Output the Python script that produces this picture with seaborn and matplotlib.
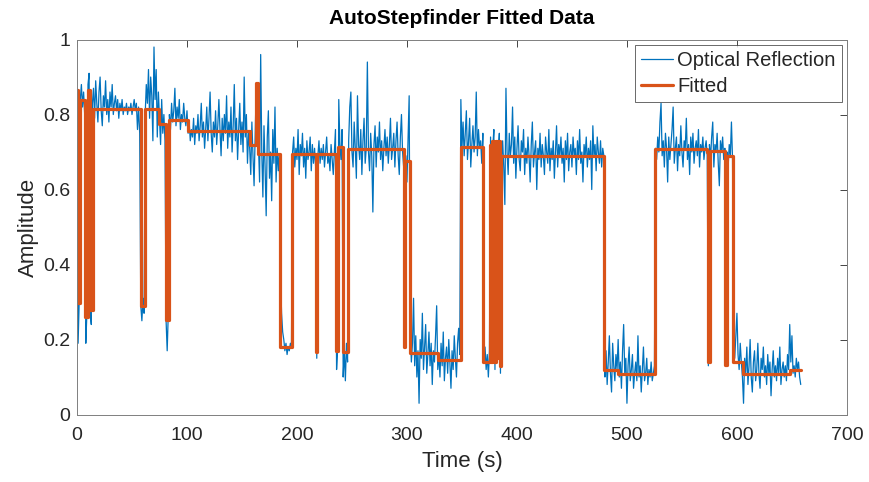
import numpy as np
import pandas as pd
import matplotlib
matplotlib.use("Agg")
import matplotlib.pyplot as plt
import seaborn as sns

# Optical reflection trace, one sample per second (t = 0 ... 658 s)
reflection_000_099 = [
    0.86, 0.19, 0.30, 0.84, 0.88, 0.82, 0.86, 0.80, 0.19, 0.27,
    0.88, 0.91, 0.27, 0.24, 0.83, 0.87, 0.79, 0.89, 0.83, 0.78,
    0.86, 0.90, 0.81, 0.77, 0.85, 0.82, 0.89, 0.80, 0.84, 0.78,
    0.86, 0.82, 0.88, 0.80, 0.83, 0.85, 0.81, 0.84, 0.79, 0.83,
    0.81, 0.84, 0.80, 0.82, 0.81, 0.83, 0.80, 0.82, 0.81, 0.83,
    0.80, 0.82, 0.84, 0.81, 0.83, 0.76, 0.82, 0.75, 0.29, 0.25,
    0.31, 0.27, 0.80, 0.88, 0.83, 0.92, 0.79, 0.90, 0.85, 0.73,
    0.98, 0.84, 0.92, 0.74, 0.86, 0.79, 0.72, 0.84, 0.75, 0.80,
    0.73, 0.25, 0.17, 0.27, 0.80, 0.76, 0.83, 0.78, 0.81, 0.87,
    0.77, 0.82, 0.79, 0.84, 0.76, 0.80, 0.78, 0.83, 0.79, 0.77,
]
reflection_100_199 = [
    0.81, 0.75, 0.78, 0.73, 0.76, 0.74, 0.79, 0.72, 0.77, 0.75,
    0.80, 0.73, 0.77, 0.83, 0.74, 0.78, 0.71, 0.76, 0.82, 0.73,
    0.79, 0.86, 0.75, 0.70, 0.78, 0.74, 0.81, 0.72, 0.77, 0.84,
    0.76, 0.69, 0.79, 0.73, 0.80, 0.75, 0.85, 0.71, 0.78, 0.74,
    0.82, 0.70, 0.77, 0.88, 0.73, 0.79, 0.68, 0.76, 0.83, 0.72,
    0.78, 0.70, 0.90, 0.74, 0.80, 0.67, 0.75, 0.71, 0.64, 0.78,
    0.69, 0.61, 0.74, 0.88, 0.86, 0.72, 0.62, 0.96, 0.70, 0.58,
    0.77, 0.66, 0.53, 0.74, 0.81, 0.63, 0.70, 0.57, 0.76, 0.67,
    0.82, 0.62, 0.71, 0.65, 0.69, 0.37, 0.27, 0.22, 0.20, 0.17,
    0.19, 0.16, 0.18, 0.17, 0.19, 0.18, 0.70, 0.74, 0.66, 0.71,
]
reflection_200_299 = [
    0.68, 0.76, 0.64, 0.72, 0.69, 0.75, 0.66, 0.71, 0.63, 0.73,
    0.68, 0.70, 0.74, 0.65, 0.72, 0.67, 0.71, 0.66, 0.15, 0.69,
    0.73, 0.67, 0.71, 0.68, 0.72, 0.66, 0.70, 0.74, 0.67, 0.69,
    0.65, 0.72, 0.68, 0.64, 0.70, 0.76, 0.12, 0.18, 0.84, 0.72,
    0.68, 0.76, 0.10, 0.17, 0.09, 0.19, 0.14, 0.73, 0.82, 0.86,
    0.70, 0.66, 0.78, 0.71, 0.63, 0.85, 0.72, 0.68, 0.76, 0.64,
    0.73, 0.79, 0.67, 0.71, 0.94, 0.70, 0.65, 0.75, 0.69, 0.54,
    0.72, 0.77, 0.66, 0.74, 0.70, 0.78, 0.68, 0.73, 0.65, 0.71,
    0.76, 0.69, 0.74, 0.67, 0.72, 0.79, 0.68, 0.71, 0.75, 0.66,
    0.73, 0.78, 0.69, 0.64, 0.74, 0.80, 0.70, 0.66, 0.20, 0.69,
]
reflection_300_399 = [
    0.62, 0.74, 0.85, 0.22, 0.14, 0.19, 0.31, 0.13, 0.21, 0.10,
    0.17, 0.03, 0.20, 0.15, 0.27, 0.12, 0.18, 0.24, 0.11, 0.16,
    0.22, 0.13, 0.19, 0.08, 0.17, 0.14, 0.21, 0.29, 0.12, 0.16,
    0.10, 0.19, 0.13, 0.22, 0.09, 0.15, 0.18, 0.11, 0.20, 0.14,
    0.07, 0.17, 0.12, 0.21, 0.15, 0.10, 0.19, 0.23, 0.16, 0.84,
    0.71, 0.78, 0.69, 0.75, 0.81, 0.68, 0.73, 0.79, 0.66, 0.72,
    0.77, 0.70, 0.74, 0.86, 0.69, 0.76, 0.71, 0.73, 0.67, 0.75,
    0.14, 0.18, 0.12, 0.16, 0.10, 0.17, 0.74, 0.16, 0.71, 0.76,
    0.12, 0.73, 0.16, 0.70, 0.75, 0.11, 0.68, 0.73, 0.66, 0.56,
    0.87, 0.70, 0.64, 0.75, 0.69, 0.72, 0.82, 0.67, 0.74, 0.63,
]
reflection_400_499 = [
    0.71, 0.77, 0.68, 0.65, 0.73, 0.70, 0.76, 0.64, 0.71, 0.67,
    0.74, 0.69, 0.62, 0.72, 0.78, 0.66, 0.70, 0.73, 0.60, 0.71,
    0.68, 0.75, 0.66, 0.72, 0.69, 0.64, 0.74, 0.70, 0.67, 0.76,
    0.65, 0.71, 0.68, 0.73, 0.63, 0.70, 0.77, 0.66, 0.72, 0.69,
    0.74, 0.67, 0.71, 0.62, 0.73, 0.68, 0.75, 0.65, 0.70, 0.72,
    0.66, 0.74, 0.69, 0.71, 0.64, 0.73, 0.68, 0.76, 0.67, 0.70,
    0.62, 0.72, 0.69, 0.74, 0.66, 0.71, 0.68, 0.73, 0.60, 0.77,
    0.69, 0.72, 0.65, 0.74, 0.70, 0.67, 0.73, 0.66, 0.71, 0.69,
    0.10, 0.17, 0.08, 0.14, 0.21, 0.11, 0.06, 0.19, 0.13, 0.09,
    0.16, 0.12, 0.20, 0.10, 0.14, 0.07, 0.17, 0.24, 0.11, 0.15,
]
reflection_500_599 = [
    0.03, 0.13, 0.18, 0.09, 0.12, 0.16, 0.07, 0.11, 0.14, 0.09,
    0.21, 0.10, 0.13, 0.06, 0.12, 0.18, 0.09, 0.11, 0.15, 0.08,
    0.12, 0.10, 0.14, 0.09, 0.11, 0.13, 0.71, 0.68, 0.74, 0.70,
    0.78, 0.83, 0.69, 0.73, 0.66, 0.75, 0.71, 0.62, 0.74, 0.68,
    0.72, 0.76, 0.82, 0.67, 0.71, 0.74, 0.65, 0.72, 0.69, 0.77,
    0.70, 0.66, 0.73, 0.71, 0.79, 0.68, 0.72, 0.64, 0.74, 0.70,
    0.75, 0.67, 0.71, 0.73, 0.69, 0.76, 0.66, 0.72, 0.70, 0.74,
    0.68, 0.71, 0.73, 0.69, 0.13, 0.72, 0.68, 0.74, 0.78, 0.66,
    0.72, 0.70, 0.75, 0.67, 0.61, 0.73, 0.70, 0.74, 0.68, 0.71,
    0.13, 0.70, 0.66, 0.72, 0.69, 0.78, 0.68, 0.18, 0.15, 0.21,
]
reflection_600_658 = [
    0.27, 0.16, 0.12, 0.19, 0.14, 0.10, 0.03, 0.15, 0.11, 0.18,
    0.08, 0.13, 0.20, 0.10, 0.06, 0.14, 0.17, 0.09, 0.12, 0.19,
    0.11, 0.07, 0.15, 0.12, 0.18, 0.10, 0.13, 0.08, 0.16, 0.11,
    0.14, 0.05, 0.12, 0.17, 0.10, 0.13, 0.09, 0.15, 0.11, 0.18,
    0.08, 0.12, 0.14, 0.10, 0.13, 0.09, 0.16, 0.12, 0.24, 0.14,
    0.21, 0.11, 0.13, 0.10, 0.15, 0.12, 0.14, 0.10, 0.08,
]

# Step fit: level holds from each change time until the next one
fit_time = [0, 0.5, 2.3, 7.5, 10.3, 12.2, 14.1, 57.8, 61.8, 75, 80.6, 83.6,
            101.2, 157.3, 162.7, 164.8, 184.6, 195.3, 217.6, 218.6, 235.5,
            237.6, 241.6, 246.7, 297.3, 298.5, 302.5, 328.5, 348.8, 369.4,
            375.5, 376.5, 377.5, 379.5, 380.5, 381.5, 382.5, 384.5, 385.5,
            479.2, 492.1, 525.5, 572.6, 573.7, 575.2, 589.6, 590.6, 596.7,
            605.8, 648.2, 658]
fit_level = [0.865, 0.297, 0.838, 0.26, 0.865, 0.278, 0.816, 0.289, 0.816,
             0.776, 0.251, 0.785, 0.756, 0.718, 0.883, 0.694, 0.18, 0.696,
             0.167, 0.695, 0.17, 0.714, 0.167, 0.707, 0.18, 0.676, 0.164,
             0.145, 0.714, 0.14, 0.72, 0.14, 0.73, 0.14, 0.73, 0.15, 0.73,
             0.13, 0.689, 0.118, 0.109, 0.709, 0.70, 0.14, 0.703, 0.131,
             0.689, 0.14, 0.109, 0.118, 0.118]

x_ticks = [0, 100, 200, 300, 400, 500, 600, 700]
y_ticks = [0, 0.2, 0.4, 0.6, 0.8, 1.0]
y_tick_labels = ["0", "0.2", "0.4", "0.6", "0.8", "1"]

reflection = (reflection_000_099 + reflection_100_199 + reflection_200_299
              + reflection_300_399 + reflection_400_499 + reflection_500_599
              + reflection_600_658)
raw = pd.DataFrame({"time": np.arange(len(reflection), dtype=float),
                    "amplitude": reflection})
fit = pd.DataFrame({"time": fit_time, "amplitude": fit_level})

sns.set_theme(style="white")
plt.rcParams["font.family"] = ["Liberation Sans", "DejaVu Sans"]

fig = plt.figure(figsize=(8.69, 4.82), dpi=100)
ax = fig.add_axes([0.0886, 0.140, 0.886, 0.778])

sns.lineplot(data=raw, x="time", y="amplitude", ax=ax, color="#0072BD",
             linewidth=0.9, estimator=None, sort=False,
             label="Optical Reflection")
sns.lineplot(data=fit, x="time", y="amplitude", ax=ax, color="#D95319",
             linewidth=2.3, estimator=None, sort=False,
             drawstyle="steps-post", label="Fitted")

ax.set_xlim(0, 700)
ax.set_ylim(0, 1)
ax.set_xticks(x_ticks)
ax.set_yticks(y_ticks)
ax.set_yticklabels(y_tick_labels)
ax.tick_params(axis="both", which="both", direction="in", length=5,
               width=0.6, color="#262626", labelsize=14,
               labelcolor="#262626", top=True, right=True)
ax.tick_params(axis="x", pad=9)
ax.tick_params(axis="y", pad=5)
for spine in ax.spines.values():
    spine.set_visible(True)
    spine.set_color("#7f7f7f")
    spine.set_linewidth(0.7)

ax.set_xlabel("Time (s)", fontsize=16, color="#262626", labelpad=5)
ax.set_ylabel("Amplitude", fontsize=16, color="#262626", labelpad=3)
ax.set_title("AutoStepfinder Fitted Data", fontsize=15, fontweight="bold",
             color="#000000", pad=11)

leg = ax.legend(loc="upper right", fontsize=14.5, frameon=True, fancybox=False,
                borderpad=0.3, handlelength=1.6, handletextpad=0.2,
                labelspacing=0.35, borderaxespad=0.25)
leg.get_frame().set_edgecolor("#262626")
leg.get_frame().set_linewidth(0.6)

fig.savefig("out.png", dpi=100)
